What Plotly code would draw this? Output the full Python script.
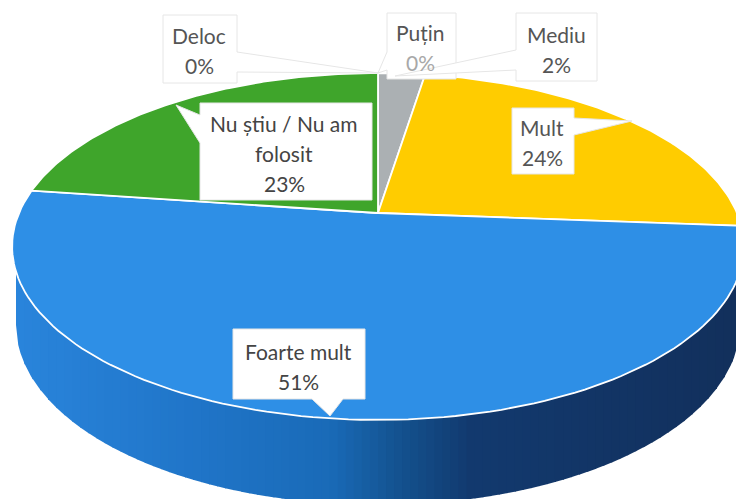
import numpy as np
import plotly.graph_objects as go

categories = ["Deloc", "Puțin", "Mediu", "Mult", "Foarte mult", "Nu știu / Nu am folosit"]
values = [0, 0, 2.5, 23.7, 51, 22.8]
percent_labels = ["0%", "0%", "2%", "24%", "51%", "23%"]
colors = ["#E8622A", "#ABB0B3", "#ABB0B3", "#FFCC00", "#2E8FE6", "#3FA52B"]

W, H = 736, 499
CX, CY, RX, RY, K = 378, 213, 359, 167, 0.193


def project(theta):
    u, v = np.sin(theta), -np.cos(theta)
    d = 1 - K * v
    return CX + RX * u / d, CY + RY * v / d


fig = go.Figure()

# side wall: vertical strips between the rim and the lower edge
stops_x = [15, 200, 330, 400, 470, 740]
stops_rgb = np.array([[42, 133, 220], [32, 117, 200], [26, 107, 184],
                      [20, 82, 143], [18, 58, 111], [18, 48, 92]], float)
edges = np.linspace(16, 740, 91)
for a, b in zip(edges[:-1], edges[1:]):
    xs = np.linspace(a, min(b + 1, 740), 5)
    rim = 246 + 173 * np.sqrt(np.clip(1 - ((xs - 378) / 366) ** 2, 0, 1))
    low = 325 + 180 * np.sqrt(np.clip(1 - ((xs - 378) / 362) ** 2, 0, 1))
    m = (a + b) / 2
    rgb = [int(np.interp(m, stops_x, stops_rgb[:, i])) for i in range(3)]
    fig.add_trace(go.Scatter(
        x=np.r_[xs, xs[::-1]], y=np.r_[rim - 3, low[::-1]], mode="lines",
        fill="toself", fillcolor=f"rgb({rgb[0]},{rgb[1]},{rgb[2]})",
        line=dict(width=0), hoverinfo="skip", showlegend=False))

# top face
cum = 0.0
total = sum(values)
for name, val, col in zip(categories, values, colors):
    if val > 0:
        th = np.linspace(cum, cum + val, 120) / total * 2 * np.pi
        px, py = project(th)
        fig.add_trace(go.Scatter(
            x=np.r_[CX, px, CX], y=np.r_[CY, py, CY], mode="lines", fill="toself",
            fillcolor=col, line=dict(color="white", width=1.8), name=name,
            hoverinfo="skip", showlegend=False))
    cum += val

# callouts
BORDER = "#E6E6E6"
callouts = [
    "M163,15 L237,15 L237,52 L378,73 L237,72 L237,83 L163,83 Z",
    "M387,13 L456,13 L456,79 L387,79 L387,70 L378,73 L387,52 Z",
    "M516,13 L597,13 L597,81 L516,81 L516,70 L395,76 L516,50 Z",
    "M512,108 L574,108 L574,118 L632,121 L574,135 L574,174 L512,174 Z",
    "M200,103 L372,103 L372,200 L200,200 L200,143 L176,105 L200,115 Z",
    "M233,329 L365,329 L365,399 L343,399 L330,416 L312,399 L233,399 Z",
]
shapes = [dict(type="path", path=p, fillcolor="white",
               line=dict(color=BORDER, width=1), layer="above", xref="x", yref="y")
          for p in callouts]

text_lines = [
    (["Deloc"], 199, 35, 65, "#555555"),
    (["Puțin"], 420, 32, 62, "#555555"),
    (["Mediu"], 556, 34, 64, "#555555"),
    (["Mult"], 542, 127, 157, "#555555"),
    (["Foarte mult"], 298, 351, 381, "#444444"),
    (["Nu știu / Nu am", "folosit"], 284, 123, 183, "#444444"),
]
FS = 21
anns = []
for i, (lines, x, y0, yp, c) in enumerate(text_lines):
    for j, t in enumerate(lines):
        anns.append(dict(x=x, y=y0 + 30 * j, text=t, showarrow=False, xref="x", yref="y",
                         font=dict(family="Lato", size=FS, color=c)))
    anns.append(dict(x=x, y=yp, text=percent_labels[i], showarrow=False, xref="x", yref="y",
                     font=dict(family="Lato", size=FS, color="#A8A8A8" if i == 1 else c)))

fig.update_layout(
    width=W, height=H, margin=dict(l=0, r=0, t=0, b=0),
    paper_bgcolor="white", plot_bgcolor="white", showlegend=False,
    xaxis=dict(range=[0, W], visible=False, fixedrange=True),
    yaxis=dict(range=[H, 0], visible=False, fixedrange=True),
    shapes=shapes, annotations=anns,
)
fig.write_html("out.html", config={"displayModeBar": False},
               post_script="document.body.style.margin='0';document.body.style.overflow='hidden';")
